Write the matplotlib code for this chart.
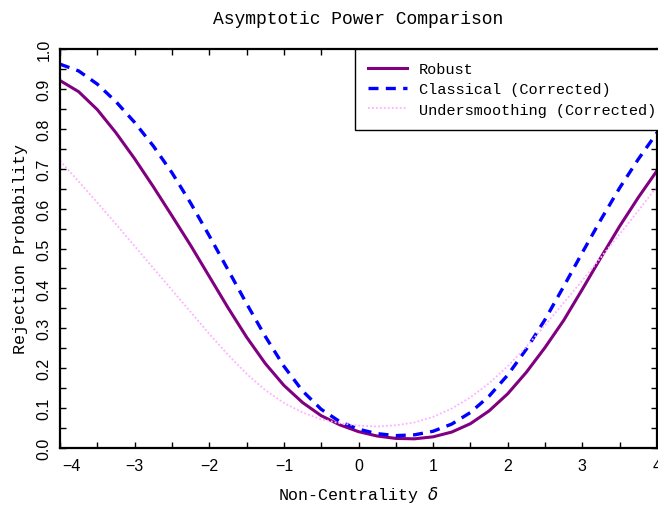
import matplotlib
matplotlib.use("Agg")
import matplotlib.pyplot as plt
import matplotlib.transforms as mtransforms
from matplotlib.ticker import MultipleLocator

# values
delta = [-4.0, -3.75, -3.5, -3.25, -3.0, -2.75, -2.5, -2.25, -2.0, -1.75, -1.5,
         -1.25, -1.0, -0.75, -0.5, -0.25, 0.0, 0.25, 0.5, 0.75, 1.0, 1.25, 1.5,
         1.75, 2.0, 2.25, 2.5, 2.75, 3.0, 3.25, 3.5, 3.75, 4.0]

robust = [0.921, 0.893, 0.848, 0.790, 0.725, 0.655, 0.582, 0.508, 0.430, 0.352, 0.278,
          0.212, 0.157, 0.114, 0.081, 0.058, 0.041, 0.030, 0.024, 0.023, 0.028, 0.040,
          0.061, 0.093, 0.136, 0.190, 0.252, 0.320, 0.398, 0.478, 0.556, 0.628, 0.695]

classical = [0.962, 0.945, 0.912, 0.868, 0.816, 0.757, 0.690, 0.614, 0.532, 0.447, 0.362,
             0.280, 0.205, 0.143, 0.097, 0.066, 0.047, 0.036, 0.031, 0.033, 0.042, 0.060,
             0.089, 0.130, 0.183, 0.248, 0.322, 0.405, 0.490, 0.573, 0.652, 0.724, 0.790]

undersmooth = [0.720, 0.668, 0.615, 0.561, 0.506, 0.451, 0.396, 0.341, 0.286, 0.234, 0.186,
               0.145, 0.113, 0.089, 0.072, 0.062, 0.056, 0.054, 0.057, 0.064, 0.078, 0.099,
               0.127, 0.162, 0.205, 0.254, 0.308, 0.364, 0.420, 0.478, 0.536, 0.595, 0.655]

mono = ['Liberation Mono', 'DejaVu Sans Mono']

fig = plt.figure(figsize=(6.58, 5.06), dpi=100)
ax = fig.add_axes([60/658, 57/506, 597/658, 399/506])

ax.plot(delta, robust, color='#800080', lw=2.2, label='Robust')
ax.plot(delta, classical, color='#0000ff', lw=2.4, ls=(0, (3, 2.2)), label='Classical (Corrected)')
ax.plot(delta, undersmooth, color='#ffb0ff', lw=1.3, ls=(0, (1, 1.2)), label='Undersmoothing (Corrected)')

ax.set_xlim(-4, 4)
ax.set_ylim(0, 1)
ax.xaxis.set_major_locator(MultipleLocator(1))
ax.xaxis.set_minor_locator(MultipleLocator(0.5))
ax.yaxis.set_major_locator(MultipleLocator(0.1))
ax.yaxis.set_minor_locator(MultipleLocator(0.05))
ax.tick_params(which='both', direction='in', top=True, right=True, length=4, width=1)
ax.tick_params(axis='x', labelsize=11.5, pad=7)
ax.tick_params(axis='y', labelsize=11.5, pad=6, labelrotation=90)
for s in ax.spines.values():
    s.set_linewidth(1.6)

ax.set_xticks(range(-4, 5))
ax.set_xticklabels(['\u2212' + str(-v) if v < 0 else str(v) for v in range(-4, 5)],
                   family='Liberation Sans')
ax.set_yticks([i / 10 for i in range(11)])
ax.set_yticklabels(['%.1f' % (i / 10) for i in range(11)], family='Liberation Sans')
for lab in ax.get_yticklabels():
    lab.set_va('center')

# first x label sits inside the frame
lab0 = ax.get_xticklabels()[0]
lab0.set_transform(lab0.get_transform() + mtransforms.ScaledTranslation(11/100, 0, fig.dpi_scale_trans))

ax.set_title('Asymptotic Power Comparison', family=mono, fontsize=13, pad=19)
ax.set_xlabel('Non-Centrality $\\delta$', family=mono, fontsize=12, labelpad=8)
ax.set_ylabel('Rejection Probability', family=mono, fontsize=12, labelpad=6)

leg = ax.legend(loc='upper right', bbox_to_anchor=(1 + 12/597, 1), borderaxespad=0,
                fancybox=False, framealpha=1, edgecolor='black',
                prop={'family': mono, 'size': 11},
                handlelength=2.6, handletextpad=0.75, labelspacing=0.42,
                borderpad=0.85)
leg.get_frame().set_linewidth(1.0)

fig.savefig('out.png', dpi=100)
